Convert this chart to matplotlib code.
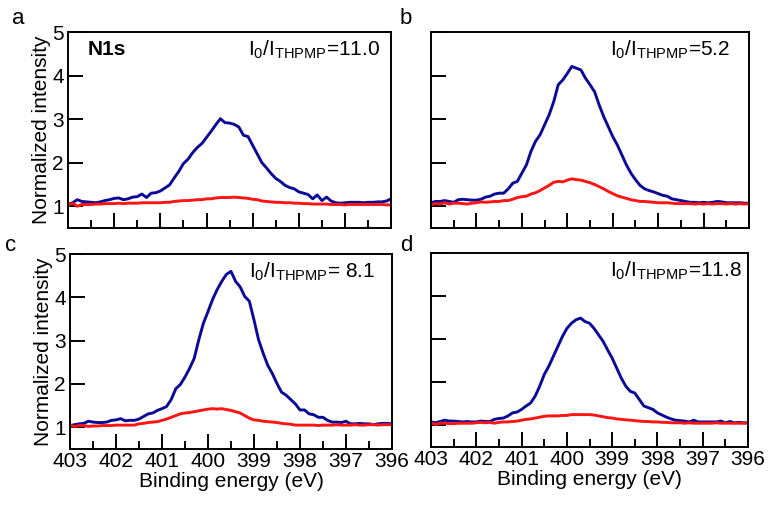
import matplotlib
matplotlib.use('Agg')
import matplotlib.pyplot as plt
import numpy as np
from matplotlib.ticker import MultipleLocator

plt.rcParams['font.family'] = ['Liberation Sans', 'DejaVu Sans']
plt.rcParams['mathtext.fontset'] = 'custom'
plt.rcParams['mathtext.rm'] = 'Liberation Sans'
plt.rcParams['mathtext.it'] = 'Liberation Sans:italic'

# binding energy grid, 403 -> 396 eV in 0.1 eV steps
energy = np.round(np.arange(403.0, 395.95, -0.1), 1)

blue_a = [1.04, 1.08, 1.15, 1.11, 1.10, 1.09, 1.08, 1.10, 1.13, 1.15,
          1.18, 1.19, 1.15, 1.17, 1.21, 1.22, 1.28, 1.20, 1.30, 1.31,
          1.35, 1.42, 1.49, 1.65, 1.80, 1.98, 2.08, 2.23, 2.35, 2.44,
          2.58, 2.72, 2.87, 3.01, 2.92, 2.91, 2.88, 2.82, 2.63, 2.60,
          2.40, 2.20, 2.00, 1.88, 1.75, 1.64, 1.57, 1.48, 1.43, 1.40,
          1.33, 1.30, 1.27, 1.17, 1.26, 1.13, 1.21, 1.12, 1.08, 1.07,
          1.08, 1.09, 1.09, 1.09, 1.08, 1.09, 1.09, 1.10, 1.10, 1.12, 1.17]
red_a = [1.02, 1.07, 1.00, 1.04, 1.04, 1.04, 1.05, 1.05, 1.06, 1.06,
         1.06, 1.07, 1.06, 1.07, 1.07, 1.07, 1.08, 1.08, 1.08, 1.08,
         1.08, 1.09, 1.09, 1.11, 1.12, 1.13, 1.13, 1.14, 1.15, 1.15,
         1.17, 1.17, 1.19, 1.20, 1.20, 1.20, 1.21, 1.20, 1.19, 1.18,
         1.16, 1.15, 1.12, 1.11, 1.10, 1.09, 1.09, 1.08, 1.08, 1.07,
         1.07, 1.06, 1.06, 1.05, 1.05, 1.05, 1.05, 1.04, 1.04, 1.04,
         1.03, 1.04, 1.04, 1.04, 1.04, 1.04, 1.04, 1.04, 1.04, 1.03, 1.03]

blue_b = [1.08, 1.11, 1.11, 1.13, 1.11, 1.09, 1.15, 1.16, 1.15, 1.14,
          1.14, 1.16, 1.21, 1.23, 1.28, 1.30, 1.30, 1.40, 1.53, 1.57,
          1.76, 1.95, 2.26, 2.49, 2.64, 2.87, 3.10, 3.40, 3.79, 3.90,
          4.05, 4.21, 4.17, 4.13, 3.94, 3.79, 3.63, 3.33, 3.06, 2.83,
          2.60, 2.41, 2.18, 1.95, 1.76, 1.61, 1.48, 1.40, 1.36, 1.33,
          1.29, 1.25, 1.23, 1.17, 1.15, 1.13, 1.11, 1.09, 1.09, 1.08,
          1.09, 1.08, 1.09, 1.11, 1.10, 1.08, 1.08, 1.08, 1.08, 1.07, 1.07]
red_b = [1.04, 1.06, 1.05, 1.08, 1.05, 1.07, 1.07, 1.06, 1.05, 1.07,
         1.08, 1.10, 1.09, 1.10, 1.11, 1.11, 1.13, 1.13, 1.16, 1.20,
         1.22, 1.23, 1.28, 1.31, 1.36, 1.42, 1.48, 1.55, 1.57, 1.56,
         1.60, 1.63, 1.61, 1.60, 1.57, 1.54, 1.50, 1.45, 1.40, 1.34,
         1.29, 1.24, 1.21, 1.18, 1.15, 1.13, 1.11, 1.11, 1.10, 1.09,
         1.08, 1.08, 1.08, 1.07, 1.06, 1.06, 1.06, 1.06, 1.05, 1.06,
         1.05, 1.06, 1.05, 1.06, 1.06, 1.05, 1.06, 1.05, 1.06, 1.05, 1.06]

blue_c = [1.04, 1.06, 1.08, 1.09, 1.14, 1.12, 1.11, 1.11, 1.12, 1.16,
          1.17, 1.20, 1.15, 1.16, 1.16, 1.19, 1.25, 1.31, 1.33, 1.39,
          1.43, 1.48, 1.64, 1.89, 1.99, 2.16, 2.36, 2.59, 3.02, 3.40,
          3.67, 3.95, 4.18, 4.37, 4.53, 4.60, 4.37, 4.24, 4.02, 3.91,
          3.48, 3.02, 2.71, 2.43, 2.24, 2.01, 1.81, 1.74, 1.64, 1.54,
          1.40, 1.40, 1.31, 1.29, 1.23, 1.23, 1.16, 1.12, 1.12, 1.11,
          1.14, 1.08, 1.08, 1.09, 1.08, 1.08, 1.06, 1.08, 1.09, 1.09, 1.08]
red_c = [1.04, 1.02, 1.04, 1.04, 1.02, 1.03, 1.03, 1.04, 1.04, 1.04,
         1.05, 1.05, 1.05, 1.05, 1.05, 1.08, 1.09, 1.11, 1.12, 1.13,
         1.16, 1.19, 1.23, 1.27, 1.31, 1.33, 1.34, 1.36, 1.38, 1.40,
         1.42, 1.43, 1.42, 1.43, 1.41, 1.39, 1.36, 1.33, 1.27, 1.21,
         1.17, 1.16, 1.14, 1.13, 1.12, 1.11, 1.09, 1.08, 1.07, 1.05,
         1.05, 1.05, 1.05, 1.05, 1.04, 1.05, 1.05, 1.05, 1.06, 1.05,
         1.05, 1.05, 1.06, 1.05, 1.05, 1.06, 1.06, 1.05, 1.06, 1.06, 1.06]

blue_d = [1.08, 1.06, 1.09, 1.12, 1.10, 1.10, 1.09, 1.08, 1.09, 1.08,
          1.08, 1.10, 1.09, 1.09, 1.14, 1.16, 1.17, 1.22, 1.29, 1.31,
          1.37, 1.45, 1.52, 1.68, 1.91, 2.18, 2.37, 2.60, 2.83, 3.06,
          3.25, 3.37, 3.45, 3.49, 3.41, 3.37, 3.25, 3.10, 2.95, 2.75,
          2.56, 2.33, 2.10, 1.91, 1.79, 1.75, 1.60, 1.45, 1.41, 1.37,
          1.29, 1.24, 1.19, 1.15, 1.12, 1.11, 1.10, 1.08, 1.12, 1.08,
          1.08, 1.08, 1.08, 1.08, 1.10, 1.06, 1.09, 1.06, 1.07, 1.06, 1.06]
red_d = [1.06, 1.02, 1.05, 1.05, 1.04, 1.04, 1.05, 1.05, 1.05, 1.05,
         1.06, 1.07, 1.06, 1.07, 1.05, 1.07, 1.08, 1.08, 1.09, 1.10,
         1.12, 1.14, 1.15, 1.17, 1.19, 1.21, 1.22, 1.22, 1.22, 1.23,
         1.23, 1.25, 1.25, 1.25, 1.25, 1.25, 1.24, 1.22, 1.20, 1.18,
         1.17, 1.15, 1.14, 1.13, 1.12, 1.11, 1.10, 1.09, 1.09, 1.08,
         1.08, 1.07, 1.07, 1.06, 1.06, 1.06, 1.05, 1.06, 1.05, 1.05,
         1.05, 1.05, 1.05, 1.06, 1.05, 1.05, 1.05, 1.05, 1.05, 1.05, 1.05]

ratios = ['=11.0', '=5.2', '= 8.1', '=11.8']
panel_labels = ['a', 'b', 'c', 'd']

blue = '#0a0a96'
red = '#ff1414'

fig = plt.figure(figsize=(7.73, 5.05), dpi=100)
# [left, bottom, width, height] in figure fractions
rects = [[0.088, 0.5485, 0.418, 0.388],
         [0.5576, 0.5485, 0.4114, 0.388],
         [0.0906, 0.111, 0.4164, 0.386],
         [0.5576, 0.115, 0.4101, 0.384]]
txt_x = [0.966, 0.94, 0.947, 0.982]
letter_pos = [(0.015, 0.985), (0.517, 0.985), (0.006, 0.535), (0.517, 0.535)]

series = [(blue_a, red_a), (blue_b, red_b), (blue_c, red_c), (blue_d, red_d)]

for i, (bl, rd) in enumerate(series):
    ax = fig.add_axes(rects[i])
    ax.plot(energy, bl, color=blue, lw=2.1)
    ax.plot(energy, rd, color=red, lw=2.1)
    ax.set_xlim(403, 396)
    ax.set_ylim(0.5, 5)
    ax.xaxis.set_major_locator(MultipleLocator(1))
    ax.xaxis.set_minor_locator(MultipleLocator(0.5))
    ax.yaxis.set_major_locator(MultipleLocator(1))
    ax.tick_params(axis='both', which='major', direction='in', length=11,
                   width=1.4, labelsize=15, top=False, right=False)
    ax.tick_params(axis='x', which='minor', direction='in', length=6,
                   width=1.4, top=False)
    ax.tick_params(axis='y', which='minor', left=False, right=False)
    ax.tick_params(axis='y', pad=3)
    ax.tick_params(axis='x', pad=2)
    for s in ax.spines.values():
        s.set_linewidth(1.4)
    if i in (0, 2):
        ax.set_ylabel('Normalized intensity', fontsize=15, labelpad=1)
    else:
        ax.set_yticklabels([])
    if i in (2, 3):
        ax.set_xlabel('Binding energy (eV)', fontsize=15, labelpad=1)
    else:
        ax.set_xticklabels([])
    ax.text(txt_x[i], 0.91, r'I$_\mathrm{0}$/I$_\mathrm{THPMP}$' + ratios[i],
            transform=ax.transAxes, ha='right', va='center', fontsize=15)
    if i == 0:
        ax.text(0.06, 0.91, 'N1s', transform=ax.transAxes, ha='left',
                va='center', fontsize=15, fontweight='bold')
    fig.text(letter_pos[i][0], letter_pos[i][1], panel_labels[i],
             fontsize=16, va='top', ha='left')

fig.savefig('out.png', dpi=100)
